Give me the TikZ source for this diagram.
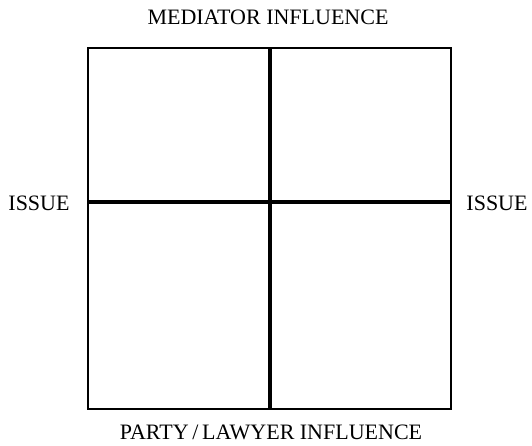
\documentclass[tikz,border=0pt]{standalone}
\usepackage{fontspec}
\setmainfont{Liberation Serif}
\begin{document}
\begin{tikzpicture}[x=1pt,y=-1pt]
\tikzset{axistext/.style={inner sep=0pt, font=\fontsize{22}{26}\selectfont}}
\useasboundingbox (0,0) rectangle (532,446);
% outer square
\coordinate (tl) at (88,48);
\coordinate (br) at (451,409);
\draw[line width=1.6pt] (tl) rectangle (br);

% the cross
\coordinate (top) at (270,48);
\coordinate (bot) at (270,409);
\coordinate (left) at (88,202);
\coordinate (right) at (451,202);
\draw[line width=4.4pt] (top) -- (bot);
\draw[line width=4.4pt] (left) -- (right);

\node[axistext] (med) at (268,17) {MEDIATOR INFLUENCE};
\node[axistext] (issl) at (39,203) {ISSUE};
\node[axistext] (issr) at (497,203) {ISSUE};
\node[axistext] (party) at (271,432) {PARTY\,/\,LAWYER INFLUENCE};
\end{tikzpicture}
\end{document}
